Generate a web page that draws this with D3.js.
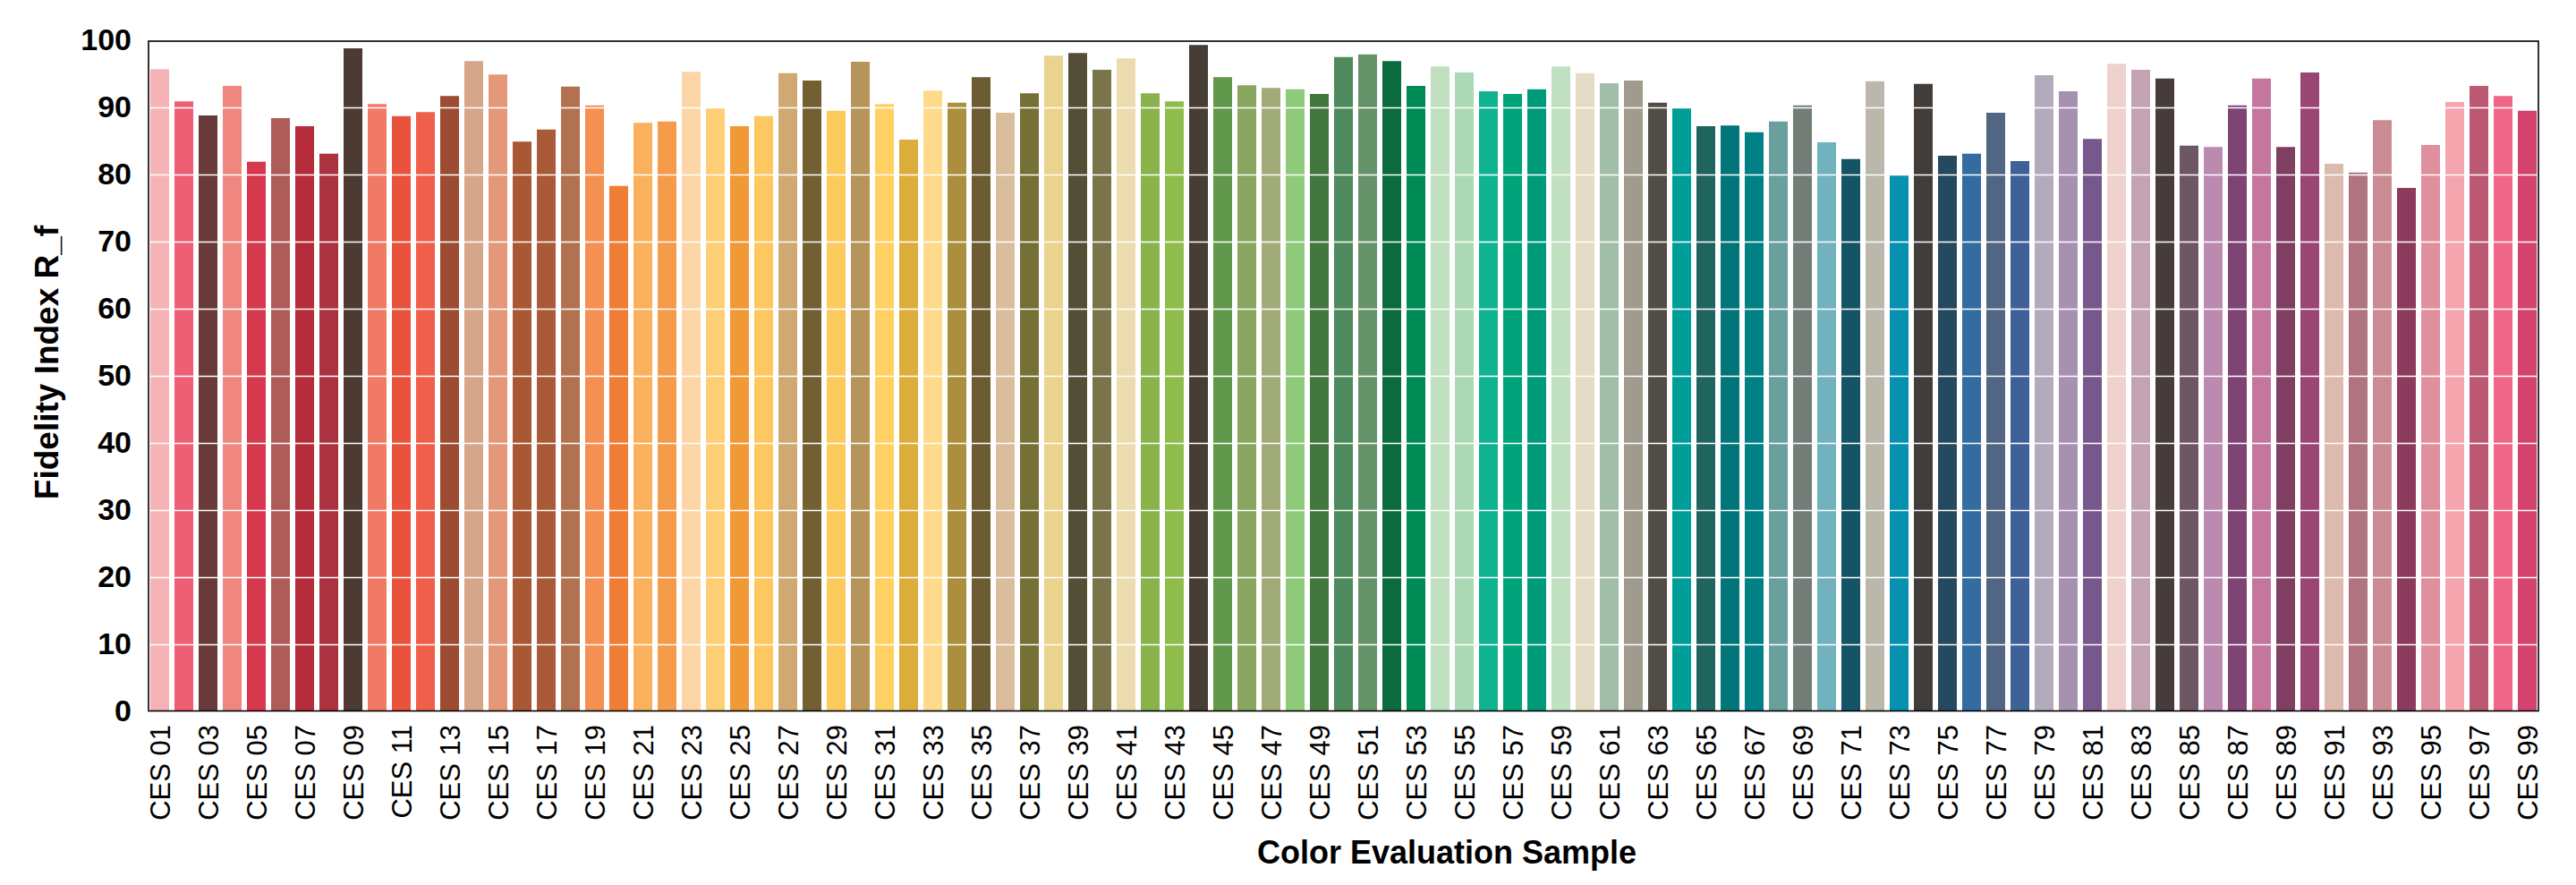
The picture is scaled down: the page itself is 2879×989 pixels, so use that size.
<!DOCTYPE html>
<html>
<head>
<meta charset="utf-8">
<script src="https://cdn.jsdelivr.net/npm/d3@7"></script>
<style>
  html, body { margin: 0; padding: 0; background: #ffffff; }
  svg { display: block; }
</style>
</head>
<body>
<svg id="chart" width="2879" height="989"></svg>
<script>
const categories = ["CES 01","CES 02","CES 03","CES 04","CES 05","CES 06","CES 07","CES 08","CES 09","CES 10",
"CES 11","CES 12","CES 13","CES 14","CES 15","CES 16","CES 17","CES 18","CES 19","CES 20",
"CES 21","CES 22","CES 23","CES 24","CES 25","CES 26","CES 27","CES 28","CES 29","CES 30",
"CES 31","CES 32","CES 33","CES 34","CES 35","CES 36","CES 37","CES 38","CES 39","CES 40",
"CES 41","CES 42","CES 43","CES 44","CES 45","CES 46","CES 47","CES 48","CES 49","CES 50",
"CES 51","CES 52","CES 53","CES 54","CES 55","CES 56","CES 57","CES 58","CES 59","CES 60",
"CES 61","CES 62","CES 63","CES 64","CES 65","CES 66","CES 67","CES 68","CES 69","CES 70",
"CES 71","CES 72","CES 73","CES 74","CES 75","CES 76","CES 77","CES 78","CES 79","CES 80",
"CES 81","CES 82","CES 83","CES 84","CES 85","CES 86","CES 87","CES 88","CES 89","CES 90",
"CES 91","CES 92","CES 93","CES 94","CES 95","CES 96","CES 97","CES 98","CES 99"];

const values = [95.7,90.9,88.8,93.2,81.9,88.4,87.2,83.1,98.8,90.5,
88.7,89.3,91.7,96.9,94.9,84.9,86.7,93.1,90.3,78.3,
87.7,87.9,95.3,89.9,87.2,88.7,95.1,94.0,89.5,96.8,
90.5,85.2,92.5,90.7,94.5,89.2,92.1,97.7,98.1,95.6,
97.3,92.1,90.9,99.3,94.5,93.3,92.9,92.7,92.0,97.5,
97.9,96.9,93.2,96.1,95.2,92.4,92.0,92.7,96.1,95.1,
93.6,94.0,90.7,89.9,87.2,87.3,86.3,87.9,90.3,84.8,
82.3,93.9,79.9,93.5,82.8,83.1,89.2,82.0,94.8,92.4,
85.3,96.5,95.6,94.3,84.3,84.1,90.3,94.3,84.1,95.2,
81.6,80.3,88.1,78.0,84.4,90.8,93.2,91.7,89.5];

const colors = ["#f6b3b5","#ef5f74","#693a3a","#ef8680","#d6384e","#ad5c58","#b52d3c","#aa333f","#4b3b33","#f17a67",
"#e9533e","#ef5f4a","#9b4c33","#d5a68a","#e59878","#a95734","#ab5a38","#b3724f","#f39052","#f07d35",
"#f9b15e","#f69a4b","#fdd6a8","#fdce74","#ef9937","#fdc861","#cfa872","#745f33","#fdca5e","#b79459",
"#fed162","#dbae3c","#feda8a","#ab8f3e","#6c5c32","#d9bd9c","#777035","#e9d38d","#554e37","#79744a",
"#ebdbae","#8ab34c","#8fbd4c","#463d35","#62984b","#88a660","#a1ab78","#8fca7b","#42773f","#4f8a5e",
"#66926a","#0b6a3e","#008a55","#c1e0c0","#acd9b5","#0fb38f","#00a37a","#009a78","#c1e0c2","#e4dcc6",
"#a2bea9","#a09c8d","#514c46","#009e98","#206460","#02757a","#008186","#699f9d","#737d78","#72b2bf",
"#155366","#bbb7ab","#0791b0","#423d39","#254961","#336ca0","#506682","#3e6298","#b3abbd","#a791b0",
"#77588d","#efd1cd","#c3a3b3","#483b3b","#6e5765","#bc89af","#7e4472","#c5769f","#7e3f63","#994673",
"#dcbaad","#b07380","#ca8c92","#8d3b5c","#e0909d","#f4a5ae","#bb5872","#ef6689","#d4436d"];

const yTicks = [0,10,20,30,40,50,60,70,80,90,100];
const gridTicks = [10,20,30,40,50,60,70,80,90];

const plot = { left: 166, right: 2837, top: 45, bottom: 795 };

const svg = d3.select("#chart");
svg.append("rect").attr("x",0).attr("y",0).attr("width",2879).attr("height",989).attr("fill","#ffffff");

const x = d3.scaleBand()
  .domain(categories)
  .range([plot.left, plot.right])
  .paddingInner(0.222)
  .paddingOuter(0.074);

const y = d3.scaleLinear().domain([0,100]).range([plot.bottom, plot.top]);

// bars
svg.append("g").selectAll("rect")
  .data(values)
  .join("rect")
  .attr("x", (d,i) => x(categories[i]))
  .attr("width", x.bandwidth())
  .attr("y", d => y(d))
  .attr("height", d => y(0) - y(d))
  .attr("fill", (d,i) => colors[i]);

// white gridlines over bars
svg.append("g").selectAll("line")
  .data(gridTicks)
  .join("line")
  .attr("x1", plot.left)
  .attr("x2", plot.right)
  .attr("y1", d => Math.round(y(d)) + 0.5)
  .attr("y2", d => Math.round(y(d)) + 0.5)
  .attr("stroke", "#ffffff")
  .attr("stroke-width", 1.3);

// frame
svg.append("rect")
  .attr("x", plot.left)
  .attr("y", plot.top + 1)
  .attr("width", plot.right - plot.left)
  .attr("height", plot.bottom - plot.top - 1.5)
  .attr("fill", "none")
  .attr("stroke", "#000000")
  .attr("stroke-width", 1.6);

// y axis
const yAxis = d3.axisLeft(y).tickValues(yTicks).tickSize(0).tickPadding(19).tickFormat(d3.format("d"));
const gy = svg.append("g").attr("transform", `translate(${plot.left},0)`).call(yAxis);
gy.select(".domain").remove();
gy.selectAll("text")
  .attr("font-family", "'Liberation Sans', Arial, sans-serif")
  .attr("font-weight", "bold")
  .attr("font-size", "34px")
  .attr("fill", "#000");

// x axis (odd labels only)
const xAxis = d3.axisBottom(x)
  .tickValues(categories.filter((c,i) => i % 2 === 0))
  .tickSize(0).tickPadding(0);
const gx = svg.append("g").attr("transform", `translate(0,${plot.bottom})`).call(xAxis);
gx.select(".domain").remove();
gx.selectAll("text")
  .attr("font-family", "'Liberation Sans', Arial, sans-serif")
  .attr("font-size", "31px")
  .attr("fill", "#000")
  .attr("text-anchor", "end")
  .attr("transform", "translate(0,15) rotate(-90)")
  .attr("x", 0)
  .attr("y", 0)
  .attr("dx", 0)
  .attr("dy", "0.36em");

// axis titles
svg.append("text")
  .attr("transform", "translate(65,405) rotate(-90)")
  .attr("text-anchor", "middle")
  .attr("font-family", "'Liberation Sans', Arial, sans-serif")
  .attr("font-weight", "bold")
  .attr("font-size", "37px")
  .attr("fill", "#000")
  .text("Fidelity Index R_f");

svg.append("text")
  .attr("x", 1617)
  .attr("y", 965)
  .attr("text-anchor", "middle")
  .attr("font-family", "'Liberation Sans', Arial, sans-serif")
  .attr("font-weight", "bold")
  .attr("font-size", "36px")
  .attr("fill", "#000")
  .text("Color Evaluation Sample");
</script>
</body>
</html>
